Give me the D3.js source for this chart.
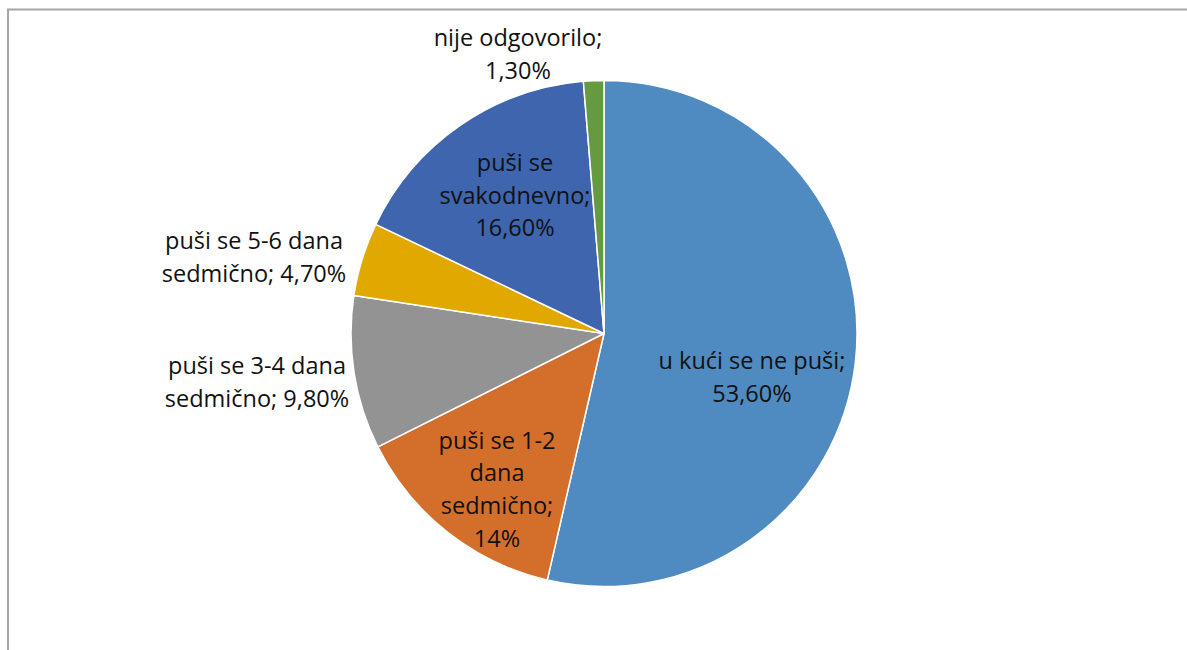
<!DOCTYPE html>
<html><head><meta charset="utf-8">
<script src="https://cdn.jsdelivr.net/npm/d3@7"></script>
<style>body{margin:0;background:#fff;} svg{display:block;}</style>
</head><body>
<svg id="c" width="1187" height="650"></svg>
<script>
const categories = ["u kući se ne puši", "puši se 1-2 dana sedmično", "puši se 3-4 dana sedmično", "puši se 5-6 dana sedmično", "puši se svakodnevno", "nije odgovorilo"];
const values = [53.6, 14, 9.8, 4.7, 16.6, 1.3];
const valueLabels = ["53,60%", "14%", "9,80%", "4,70%", "16,60%", "1,30%"];
const labelLines = [
  ["u kući se ne puši;", "53,60%"],
  ["puši se 1-2", "dana", "sedmično;", "14%"],
  ["puši se 3-4 dana", "sedmično; 9,80%"],
  ["puši se 5-6 dana", "sedmično; 4,70%"],
  ["puši se", "svakodnevno;", "16,60%"],
  ["nije odgovorilo;", "1,30%"]
];
const colors = ["#4F8BC0", "#D46F2B", "#939393", "#E1A800", "#3E65AE", "#659A40"];
// label anchor offsets from pie centre (layout only)
const labelOffsets = [[148, 44], [-107, 156], [-347, 49], [-350, -76], [-89, -138], [-86, -279]];

const svg = d3.select("#c");
const W = 1187, H = 650;
// frame
svg.append("path").attr("d", `M8,${H+5} L8,9.5 L${W+5},9.5`).attr("fill", "none").attr("stroke", "#A6A6A6").attr("stroke-width", 2);

const cx = 604, cy = 333.5, R = 253;
const g = svg.append("g").attr("transform", `translate(${cx},${cy})`);
const pie = d3.pie().sort(null).value(d => d)(values);
const arc = d3.arc().innerRadius(0).outerRadius(R);
g.selectAll("path.s").data(pie).join("path").attr("class", "s")
  .attr("d", arc).attr("fill", (d, i) => colors[i])
  .attr("stroke", "#fff").attr("stroke-width", 1.5).attr("stroke-linejoin", "round");

const lh = 32.7;
labelLines.forEach((lines, i) => {
  const [dx, dy] = labelOffsets[i];
  const t = g.append("text").attr("text-anchor", "middle")
    .attr("font-family", "'Open Sans', Lato, sans-serif").attr("font-size", 23.5).attr("fill", "#111");
  const y0 = dy - (lines.length - 1) * lh / 2;
  lines.forEach((s, k) => {
    t.append("tspan").attr("x", dx).attr("y", y0 + k * lh).attr("dy", "0.35em").text(s);
  });
});
</script>
</body></html>
